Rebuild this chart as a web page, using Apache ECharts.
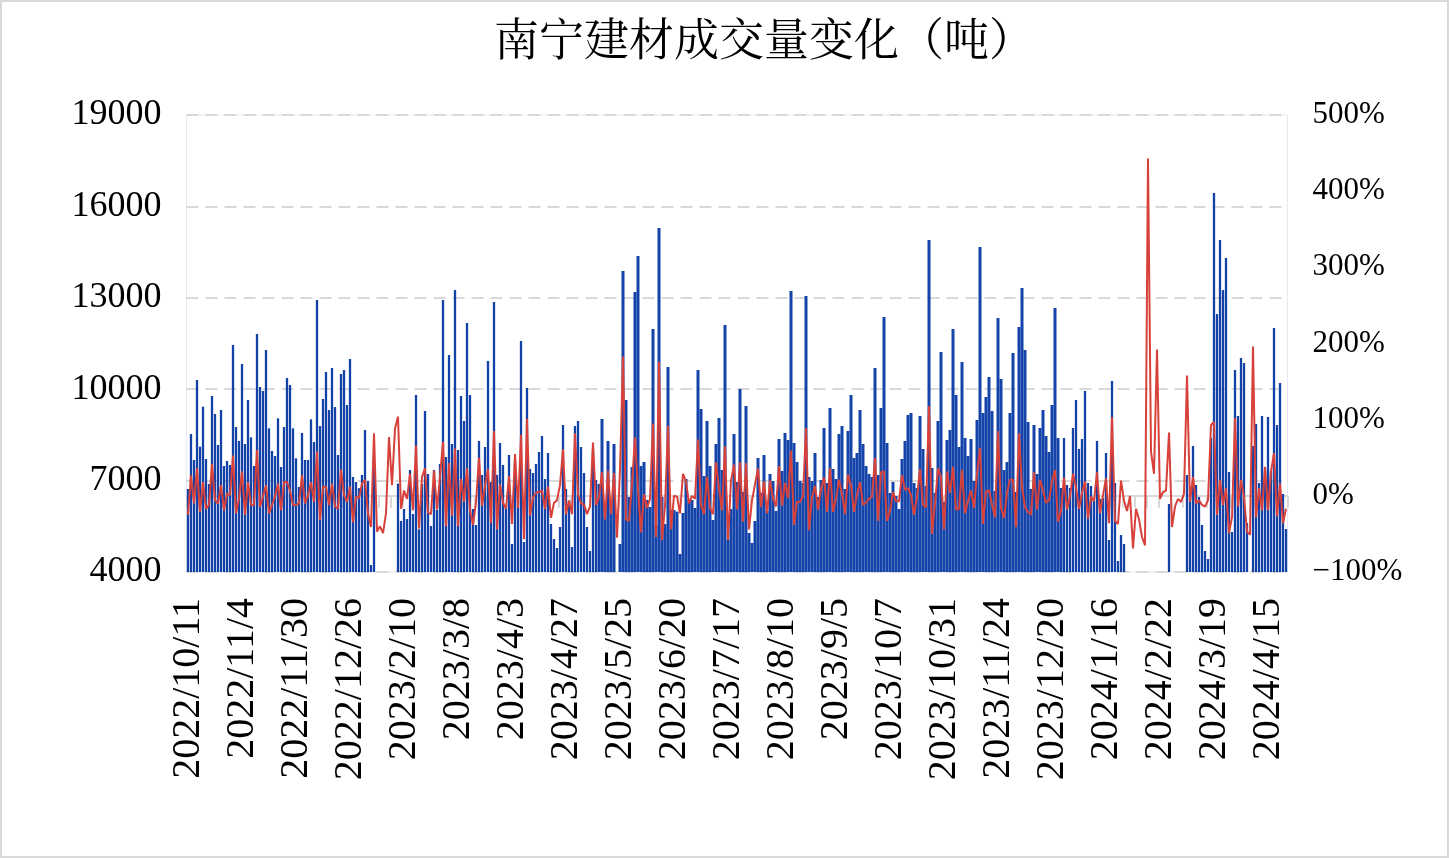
<!DOCTYPE html>
<html><head><meta charset="utf-8">
<script src="https://cdn.jsdelivr.net/npm/echarts@6/dist/echarts.min.js"></script>
<style>html,body{margin:0;padding:0;background:#fff}#c{width:1449px;height:858px}</style>
</head><body><div id="c"></div><script>
// tick-label dates (every 18th category) and trailing dates
const tickDates = ['2022/10/11','2022/11/4','2022/11/30','2022/12/26','2023/2/10','2023/3/8','2023/4/3','2023/4/27','2023/5/25','2023/6/20','2023/7/17','2023/8/10','2023/9/5','2023/10/7','2023/10/31','2023/11/24','2023/12/20','2024/1/16','2024/2/22','2024/3/19','2024/4/15'];
const tailDates = ['2024/4/16','2024/4/17','2024/4/18','2024/4/19','2024/4/22','2024/4/23'];

// daily volume (tonnes)
const volume = [
6724,8529,7676,10301,8114,9427,7709,6888,9777,9186,
8168,9317,7479,7643,7512,11450,8759,8300,10827,8201,
9645,8420,7479,11811,10072,9941,11286,8715,7971,7807,
9044,7446,8759,10367,10138,8715,7731,6790,8562,7676,
7676,9011,8267,12927,8792,9678,10564,9317,10696,9416,
7841,10499,10630,9481,10991,7118,6954,6750,7184,8661,
6985,4230,7500,3980,2400,1220,940,1660,1890,3550,
6900,5674,6068,5740,7348,5903,9809,5400,6888,9284,
7217,5510,7348,6035,7545,12927,7775,11122,8201,13256,
8004,9777,8956,12172,9809,6068,5543,8300,7184,8103,
10925,6954,12861,7184,8234,7512,6199,7841,4919,7643,
6418,11582,4985,10039,7380,7249,7545,7939,8464,7052,
7906,5575,5083,4788,5477,8825,6724,6330,4820,8792,
8956,8103,7249,5477,4690,8000,7019,6888,9022,6225,
8300,6300,8201,3700,4919,13879,9645,6461,7446,13190,
14371,7479,7610,6363,6133,11975,5543,15290,6461,5575,
10728,6035,6035,5980,4590,5937,7052,6363,6363,6101,
10630,9350,7151,8956,7479,5707,8201,9054,7348,12107,
5050,6068,8529,6954,10006,6626,9448,5280,4952,5674,
7742,6593,7840,6002,7217,6987,6002,8365,7315,8562,
8333,13222,8234,7610,6987,6921,13058,7118,6987,7906,
6461,7019,8726,6921,9383,7381,7052,8529,8792,6724,
8628,9809,7742,7906,9317,8201,7479,7217,7118,10696,
7184,9383,12369,8234,6593,6954,6494,6068,7709,8300,
9153,9219,6921,6757,9120,8037,6823,14896,7413,6593,
8956,11221,6298,8333,8660,11975,9809,8103,10892,8398,
7807,8365,6987,8989,14667,9219,9744,10400,9284,6659,
12336,10334,7348,7610,9219,11188,6626,12041,13321,11286,
8923,6724,8825,7217,8726,9317,8464,7939,9481,12665,
8398,6757,8398,6856,6757,8726,9645,8037,8365,9941,
6921,6823,6330,8300,6396,6429,7906,5050,10269,6921,
4362,5215,4919,3950,3950,1220,1010,700,320,110,
600,950,1220,3560,3420,3590,3400,6232,3560,3060,
2940,2700,2784,7184,6600,8135,6856,6461,5543,4690,
4427,8398,16439,12468,14896,13256,14306,7282,5313,10630,
9120,11024,10860,5608,2750,8135,8858,6920,9120,7315,
9087,7315,12008,8823,10203,6560,5410
];

// day-on-day change (%)
const change = [
-25,27,-10,36,-21,18,-17,-12,42,-6,
-10,14,-19,3,1,53,-23,-4,32,-25,
18,-12,-12,60,-15,-1,14,-23,-12,-1,
16,-19,18,18,7,-12,-12,-10,27,-10,
0,18,-8,58,-32,12,12,-12,16,-14,
-17,34,1,-8,12,-35,-1,-3,16,21,
-23,-41,82,-47,-40,-49,-23,77,14,88,
104,-17,7,-4,29,-19,66,-43,25,36,
-22,-24,33,-18,25,71,-40,43,-26,62,
-40,22,-8,36,-19,-38,-9,50,-13,13,
35,-36,85,-44,15,-9,-17,26,-37,55,
-16,80,-57,101,-26,-2,4,5,7,-17,
12,-29,-9,-6,14,61,-24,-6,-24,82,
2,-10,-11,-24,-14,70,-12,-2,31,-31,
33,-24,30,-55,33,183,-31,-33,15,77,
9,-48,2,-16,-4,95,-54,176,-58,-14,
92,-44,0,-1,-23,29,19,-10,0,-4,
74,-12,-24,25,-16,-24,44,10,-19,65,
-58,20,41,-18,44,-34,43,-44,-6,15,
36,-15,19,-23,20,-3,-14,39,-13,17,
-3,59,-38,-8,-8,-1,89,-45,-2,13,
-18,9,24,-21,36,-21,-4,21,3,-24,
28,14,-21,2,18,-12,-9,-4,-1,50,
-33,31,32,-33,-20,5,-7,-7,27,8,
10,1,-25,-2,35,-12,-15,118,-50,-11,
36,25,-44,32,4,38,-18,-17,34,-23,
-7,7,-16,29,63,-37,6,7,-11,-28,
85,-16,-29,4,21,21,-41,82,11,-15,
-21,-25,31,-18,21,7,-9,-6,19,34,
-34,-20,24,-18,-1,29,11,-17,4,19,
-30,-1,-7,31,-23,1,23,-36,103,-33,
-37,20,-6,-20,0,-69,-17,-31,-54,-65,
443,58,29,192,-4,5,7,83,-41,-14,
-4,-8,3,158,-8,25,-10,-6,-12,-14,
-6,93,97,-25,21,-12,10,-49,-28,102,
-14,21,-1,-47,-51,196,-28,10,-19,38,
-19,32,56,-27,16,-36,-17
];

const leftTicks = {min: 4000, max: 19000, step: 3000};
const rightTicks = {min: -100, max: 500, step: 100};

// ---- build category list (hidden dates between tick labels) ----
const PER = 18;
function parse(s){const p=s.split('/').map(Number);return Date.UTC(p[0],p[1]-1,p[2]);}
function fmt(t){const d=new Date(t);return d.getUTCFullYear()+'/'+(d.getUTCMonth()+1)+'/'+d.getUTCDate();}
const categories = [];
for (let k=0;k<tickDates.length-1;k++){
  const a=parse(tickDates[k]), b=parse(tickDates[k+1]);
  let pool=[a];
  for(let t=a+86400000;t<b;t+=86400000){const wd=new Date(t).getUTCDay(); if(wd!==0&&wd!==6) pool.push(t);}
  if(pool.length<PER){pool=[];for(let t=a;t<b;t+=86400000) pool.push(t);}
  for(let j=0;j<PER;j++) categories.push(j===0?tickDates[k]:fmt(pool[Math.floor(j*pool.length/PER)]));
}
categories.push(tickDates[tickDates.length-1]);
tailDates.forEach(d=>categories.push(d));

// style: the middle stretch of the reference is drawn with touching bars
const DENSE_FROM = 137, DENSE_TO = 291;
const thinBars = volume.map((v,i)=> (i<DENSE_FROM||i>DENSE_TO)? v : null);
const denseBars = volume.map((v,i)=> (i>=DENSE_FROM&&i<=DENSE_TO)? v : null);

const SERIF = "'Liberation Serif','Times New Roman',serif";
const chart = echarts.init(document.getElementById('c'), null, {renderer:'canvas'});
chart.setOption({
  animation:false,
  backgroundColor:'#fff',
  title:{text:'南宁建材成交量变化（吨）',left:489,top:11,
    textStyle:{fontSize:45,fontWeight:'normal',color:'#000',fontFamily:"'Noto Serif CJK SC','Noto Sans CJK SC',serif"}},
  graphic:[{type:'rect',shape:{x:1,y:1,width:1447,height:856},style:{fill:null,stroke:'#d9d9d9',lineWidth:2},silent:true,z:100}],
  grid:{left:186.5,right:161.5,top:115,bottom:286,show:true,borderColor:'#e4e9f3',borderWidth:1,backgroundColor:'transparent'},
  xAxis:[{type:'category',data:categories,boundaryGap:true,
      axisLine:{lineStyle:{color:'#d9d9d9',width:2}},
      axisTick:{show:true,interval:3,length:12,lineStyle:{color:'#d9d9d9',width:2}},
      axisLabel:{interval:PER-1,rotate:90,margin:26,fontSize:40,color:'#000',fontFamily:SERIF},
      splitLine:{show:false}},
    {type:'category',data:categories,boundaryGap:true,show:false,position:'bottom'}],
  yAxis:[{type:'value',min:leftTicks.min,max:leftTicks.max,interval:leftTicks.step,
      axisLine:{show:false},axisTick:{show:false},
      axisLabel:{fontSize:36,color:'#000',fontFamily:SERIF,margin:25,formatter:v=>String(v)},
      splitLine:{show:true,lineStyle:{color:'#d9d9d9',width:2,type:[12,7]}}},
    {type:'value',min:rightTicks.min,max:rightTicks.max,interval:rightTicks.step,position:'right',
      axisLine:{show:false},axisTick:{show:false},splitLine:{show:false},
      axisLabel:{fontSize:31,color:'#000',fontFamily:SERIF,margin:25,
        formatter:v=> v<0? '\u2212'+Math.abs(v)+'%' : v+'%'}}],
  series:[
    {name:'成交量',type:'bar',xAxisIndex:0,yAxisIndex:0,data:thinBars,barWidth:2.3,itemStyle:{color:'#1241a8'},clip:true},
    {name:'成交量2',type:'bar',xAxisIndex:1,yAxisIndex:0,data:denseBars,barWidth:'100%',itemStyle:{color:'#1443a9'},clip:true},
    {name:'环比',type:'line',xAxisIndex:0,yAxisIndex:1,data:change,symbol:'none',z:5,
      lineStyle:{color:'#d8413a',width:2}}
  ]
});
</script></body></html>
